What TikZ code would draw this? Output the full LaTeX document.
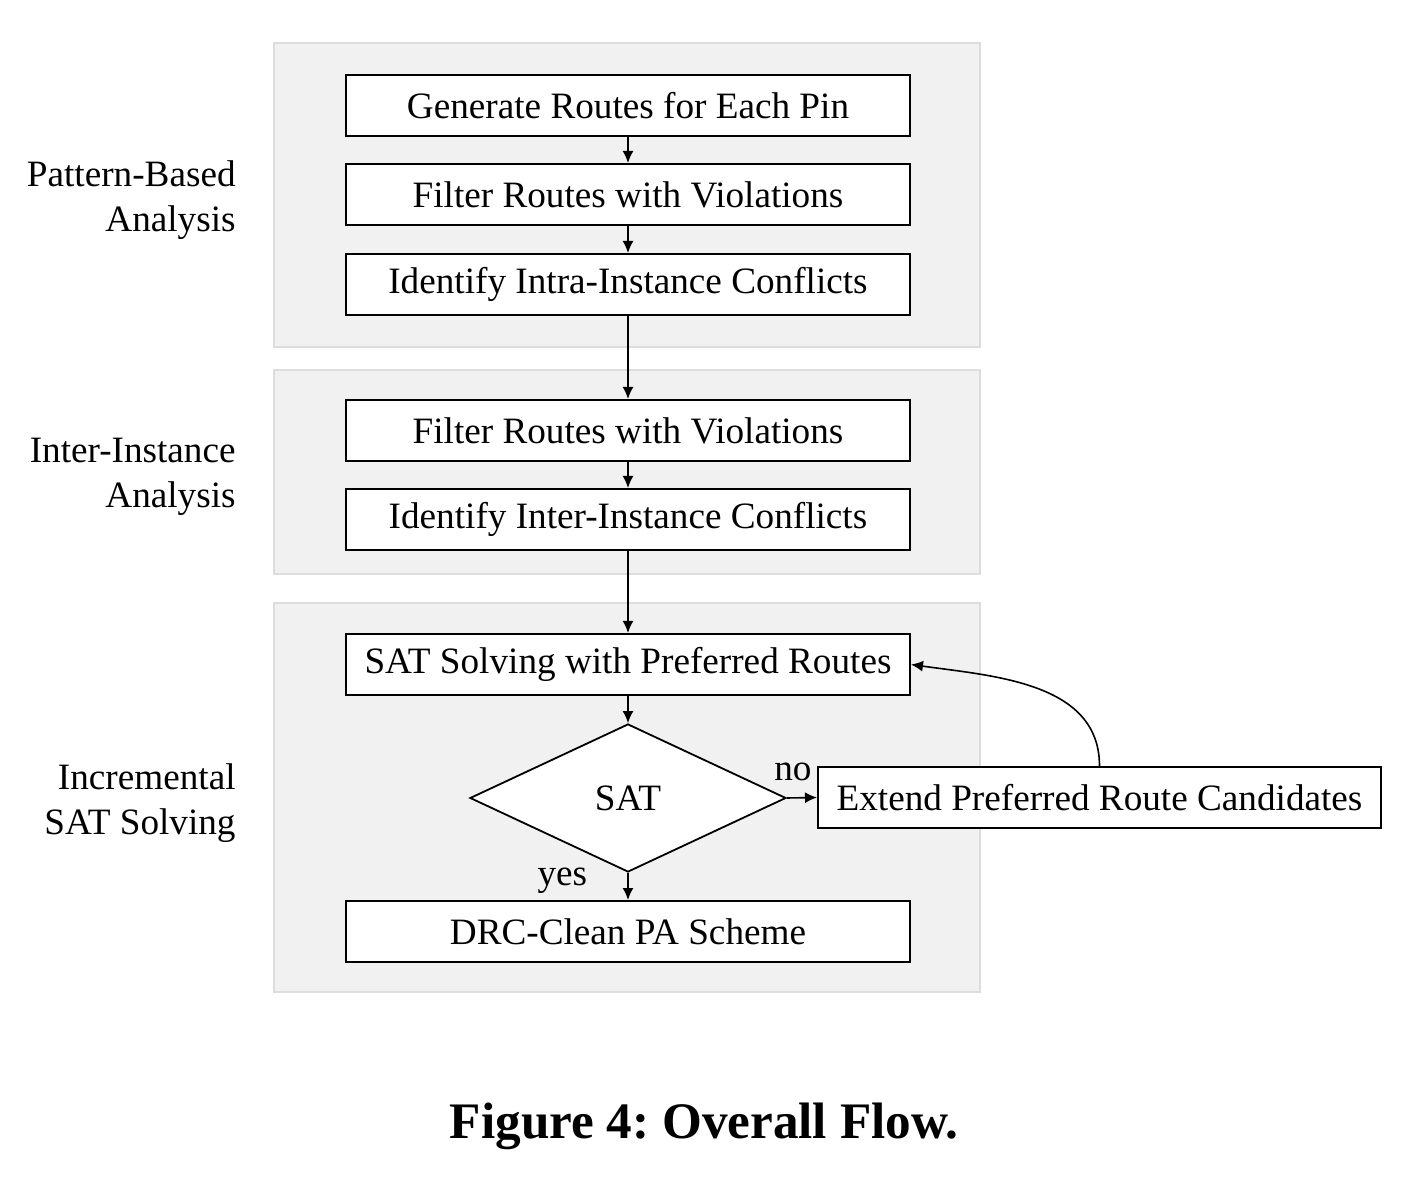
\documentclass[tikz,border=0pt]{standalone}
\usepackage{fontspec}
\setmainfont{Liberation Serif}
\usetikzlibrary{shapes.geometric,positioning,arrows.meta}
\definecolor{panelgray}{RGB}{241,241,241}
\definecolor{panelline}{RGB}{221,221,221}

\begin{document}
\begin{tikzpicture}[x=0.5pt, y=-0.5pt,
  panel/.style={draw=panelline, fill=panelgray, line width=0.8pt},
  box/.style={rectangle, draw, fill=white, line width=1pt, minimum width=282pt, minimum height=30.5pt, inner sep=0pt, font=\fontsize{18.6}{22}\selectfont},
  decision/.style={diamond, draw, fill=white, line width=0.9pt, minimum width=158pt, minimum height=74pt, inner sep=0pt, font=\fontsize{18.6}{22}\selectfont},
  sidelabel/.style={align=right, anchor=east, inner sep=0pt, font=\fontsize{18.6}{22.3}\selectfont},
  edgelabel/.style={font=\fontsize{18.6}{22}\selectfont, inner sep=0pt},
  arrow/.style={->, >={Latex[length=6pt, width=5.5pt]}, line width=0.8pt}
]
\useasboundingbox (0,0) rectangle (1426,1187);

% Panels
\draw[panel] (274,43) rectangle (980,347);
\draw[panel] (274,370) rectangle (980,574);
\draw[panel] (274,603) rectangle (980,992);

% Panel labels
\node[sidelabel] (lblpattern) at (236,200) {Pattern-Based\\Analysis};
\node[sidelabel] (lblinter) at (236,477) {Inter-Instance\\Analysis};
\node[sidelabel] (lblsat) at (236,803) {Incremental\\SAT Solving};

% Pattern-based analysis
\node[box] (generate) at (628,105.5) {Generate Routes for Each Pin};
\node[box] (filterone) at (628,194.5) {Filter Routes with Violations};
\node[box] (intra) at (628,284.5) {Identify Intra-Instance Conflicts};

% Inter-instance analysis
\node[box] (filtertwo) at (628,430.5) {Filter Routes with Violations};
\node[box] (inter) at (628,519.5) {Identify Inter-Instance Conflicts};

% Incremental SAT solving
\node[box] (satsolve) at (628,664.5) {SAT Solving with Preferred Routes};
\node[decision] (sat) at (628,798) {SAT};
\node[box, minimum width=281.5pt] (extend) at (1099.5,797.5) {Extend Preferred Route Candidates};
\node[box] (clean) at (628,931.5) {DRC-Clean PA Scheme};

% Caption
\node[font=\fontsize{25.6}{30}\selectfont\bfseries] (caption) at (704,1126) {Figure 4:\ Overall Flow.};

% Arrows
\draw[arrow] (generate) -- (filterone);
\draw[arrow] (filterone) -- (intra);
\draw[arrow] (intra) -- (filtertwo);
\draw[arrow] (filtertwo) -- (inter);
\draw[arrow] (inter) -- (satsolve);
\draw[arrow] (satsolve) -- (sat);
\draw[arrow] (sat.east) -- node[edgelabel, pos=0.2, above=8pt] {no} (extend.west);
\draw[arrow] (sat.south) -- node[edgelabel, pos=0.3, left=20pt] {yes} (clean.north);
\draw[arrow] (extend.north) to[out=90, in=-8] (satsolve.east);

\end{tikzpicture}
\end{document}
